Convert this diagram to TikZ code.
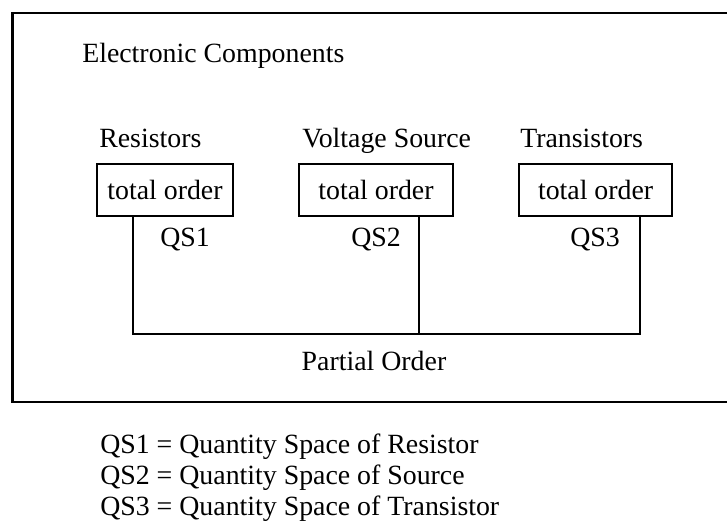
\documentclass[tikz,border=0pt]{standalone}
\usepackage{fontspec}
\setmainfont{Liberation Serif}

\begin{document}
\begin{tikzpicture}[x=1mm,y=1mm,font=\fontsize{19.8}{23}\selectfont,
    lbl/.style={anchor=base west,inner xsep=0pt}]
  \useasboundingbox (0,0) rectangle (181.75,131.5);
  \clip (0,0) rectangle (181.75,131.5);
  \draw[line width=2pt] (3.2,31) rectangle (190,128.25);
  \node[lbl] (title) at (20.5,115.75) {Electronic Components};
  \foreach \i/\kind/\lx/\bx/\bw/\qx in {1/Resistors/24.75/41.25/34/46.25,2/Voltage Source/75.5/94/38.5/94,3/Transistors/130/148.9/38.25/148.75}{
    \node[lbl] (kind\i) at (\lx,94.5){\kind};
    \node[draw,line width=1.9pt,minimum width=\bw mm,minimum height=13mm,inner sep=0pt] (box\i) at (\bx,84){total order};
    \node (qs\i) at (\qx,71.5){QS\i};
  }
  \coordinate (bar1) at (33.25,48);
  \coordinate (bar2) at (104.75,48);
  \coordinate (bar3) at (160,48);
  \draw[line width=1.4pt] (box1.south -| bar1) -- (bar1) -- (bar3) -- (box3.south -| bar3);
  \draw[line width=1.4pt] (box2.south -| bar2) -- (bar2);
  \node (partial) at (93.5,41.25){Partial Order};
  \foreach \i/\y/\what in {1/19.75/Resistor,2/12/Source,3/4.25/Transistor}{
    \node[anchor=west,inner xsep=0pt] (key\i) at (25,\y){QS\i{} = Quantity Space of \what};
  }
\end{tikzpicture}
\end{document}
